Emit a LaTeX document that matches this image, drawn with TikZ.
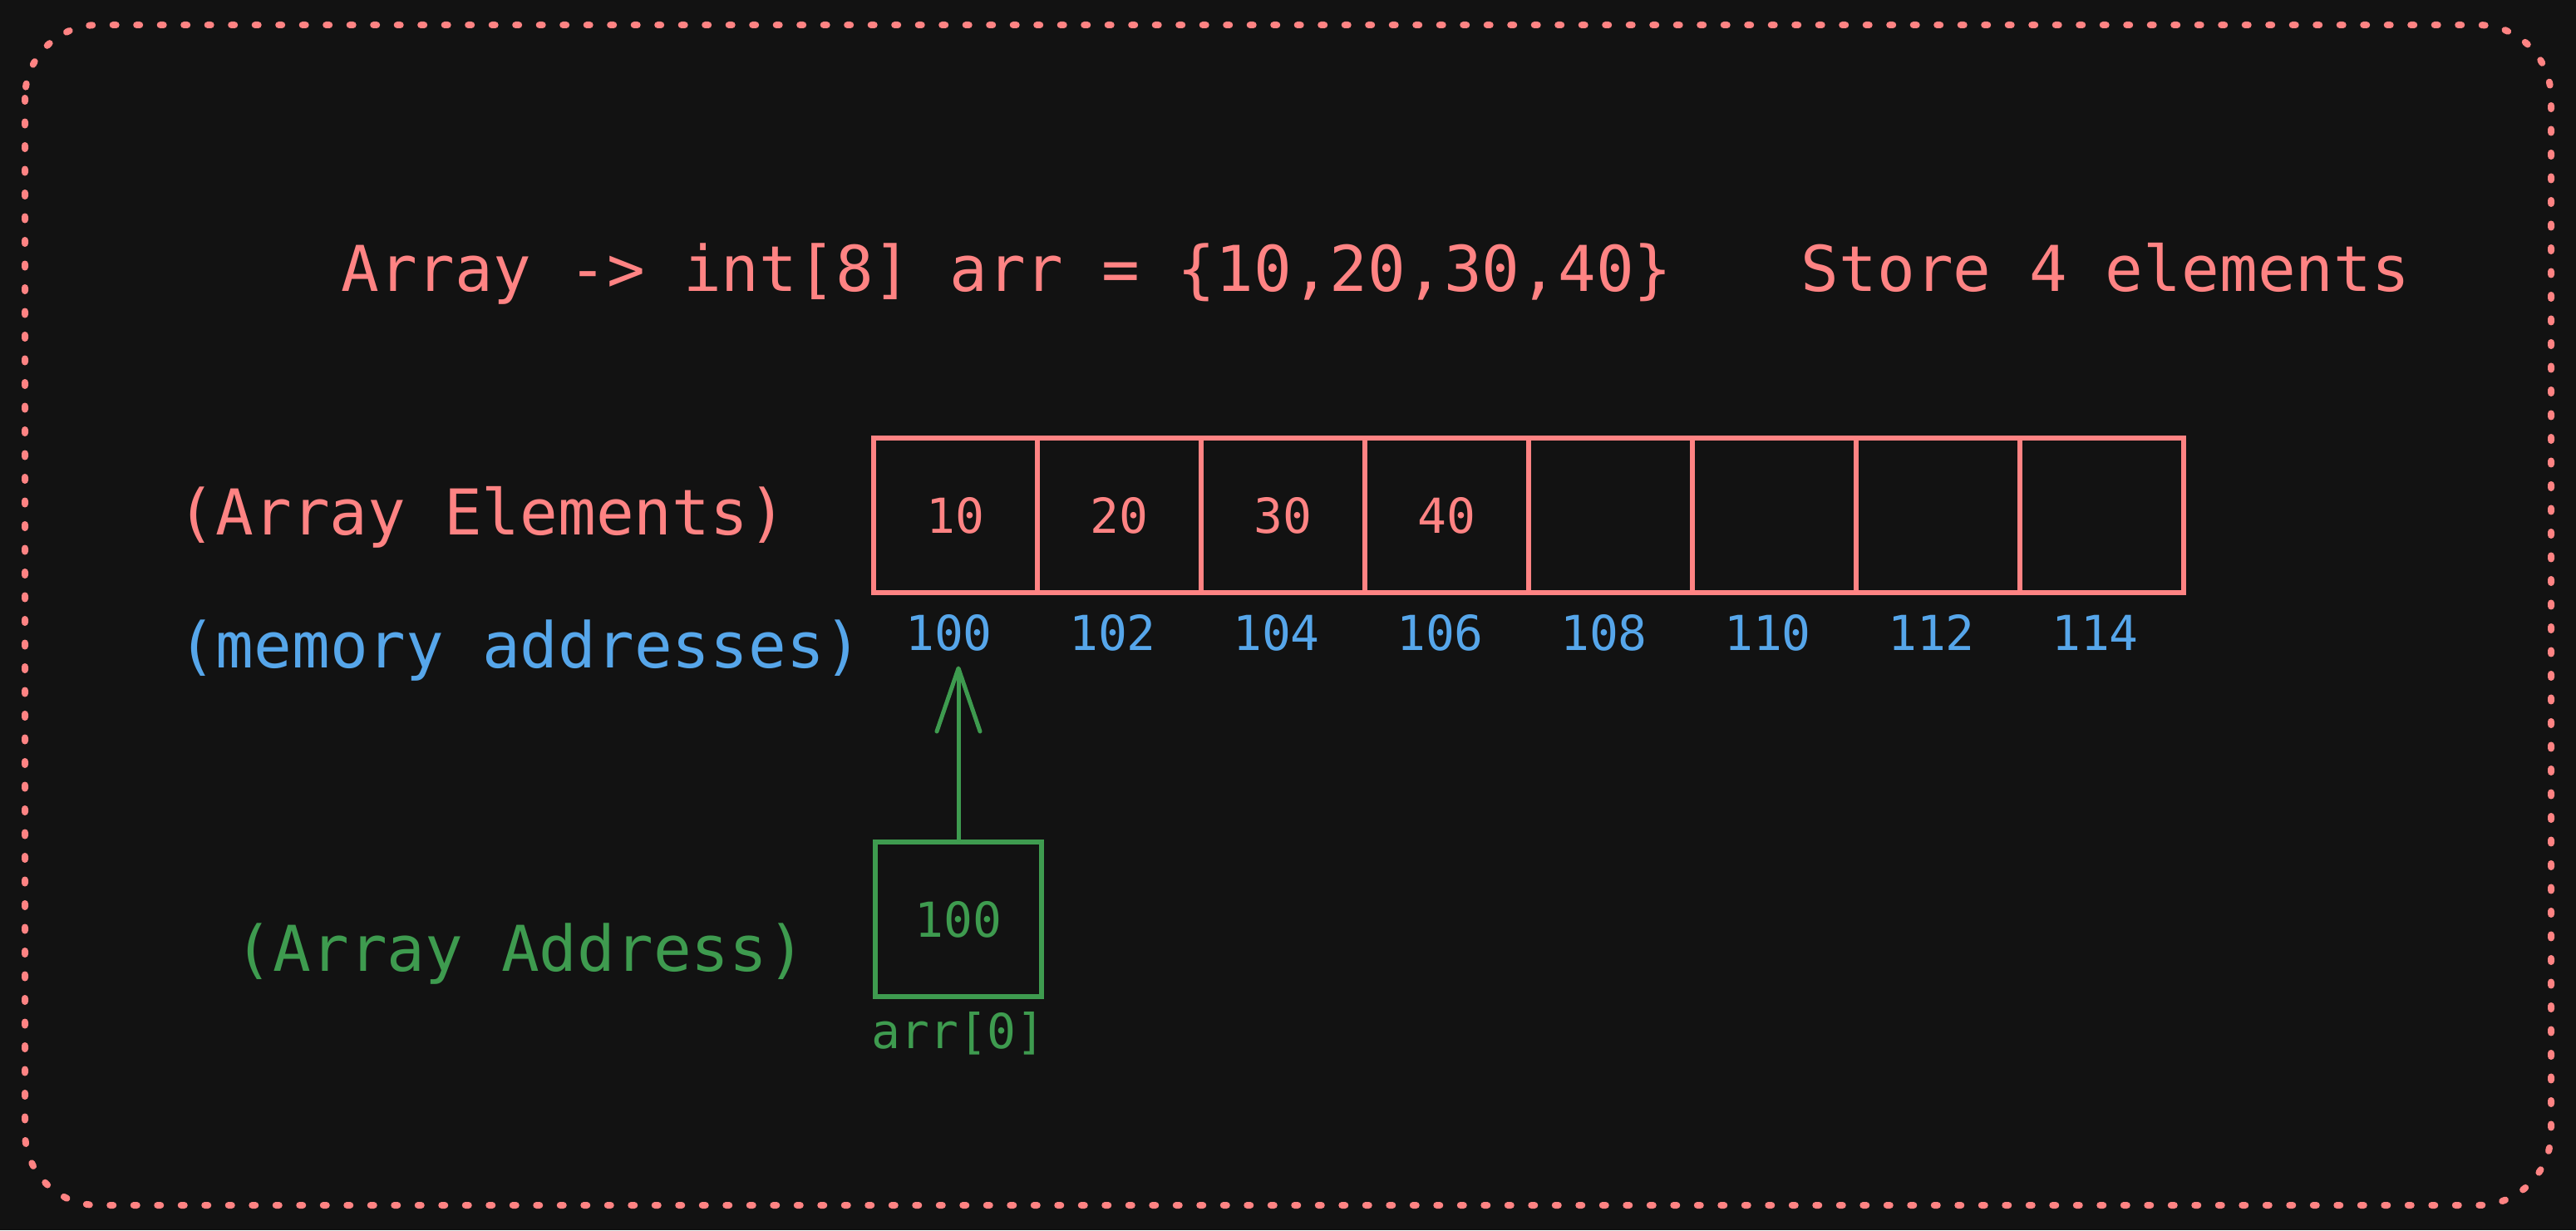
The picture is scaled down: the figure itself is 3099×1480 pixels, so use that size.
\documentclass[tikz,border=0pt]{standalone}
\usepackage{fontspec}
\setmonofont{DejaVu Sans Mono}
\usetikzlibrary{arrows.meta,positioning}
\definecolor{bgdark}{HTML}{121212}
\definecolor{sketchred}{HTML}{FF8383}
\definecolor{sketchblue}{HTML}{56A6EA}
\definecolor{sketchgreen}{HTML}{3E9B4F}
\tikzset{
  bigtext/.style={font=\ttfamily\fontsize{76}{90}\selectfont, inner sep=0pt},
  smalltext/.style={font=\ttfamily\fontsize{58}{70}\selectfont},
  cell/.style={draw=sketchred, line width=5.5pt, minimum width=197pt,
    minimum height=186pt, text=sketchred, smalltext},
  addr/.style={text=sketchblue, smalltext},
}

\begin{document}
\begin{tikzpicture}[x=1pt, y=-1pt]
  \fill[bgdark] (0,0) rectangle (3099,1480);
  \useasboundingbox (0,0) rectangle (3099,1480);
  \draw[sketchred, line width=8pt, line cap=round, dash pattern=on 4pt off 24.5pt,
    rounded corners=88pt] (30,30) rectangle (3069,1450);
  \node[bigtext, text=sketchred, anchor=base] (code) at (1211,350)
    {Array -> int[8] arr = \{10,20,30,40\}};
  \node[bigtext, text=sketchred, anchor=base] (store) at (2533,350) {Store 4 elements};
  \node[bigtext, text=sketchred, anchor=base] (elems) at (580,643) {(Array Elements)};
  \node[bigtext, text=sketchblue, anchor=base] (mem) at (626,803) {(memory addresses)};
  \node[bigtext, text=sketchgreen, anchor=base] (arraddr) at (626,1168) {(Array Address)};
  \foreach \v/\adr [count=\i] in {10/100,20/102,30/104,40/106,{}/108,{}/110,{}/112,{}/114}{
    \node[cell] (c\i) at ({1149.5+197*(\i-1)},620) {\v};
    \node[addr] (a\i) at ({1141.5+197*(\i-1)},761) {\adr};
  }
  \node[draw=sketchgreen, line width=6pt, minimum width=200pt, minimum height=186pt,
    text=sketchgreen, smalltext] (box) at (1153,1106) {100};
  \node[smalltext, text=sketchgreen, below=12pt of box] (idx) {arr[0]};
  \draw[sketchgreen, line width=5pt, shorten >=15pt,
    -{Straight Barb[length=76pt, width=52pt, round]}]
    (box.north) -- (box.north |- a1.south);
\end{tikzpicture}
\end{document}
